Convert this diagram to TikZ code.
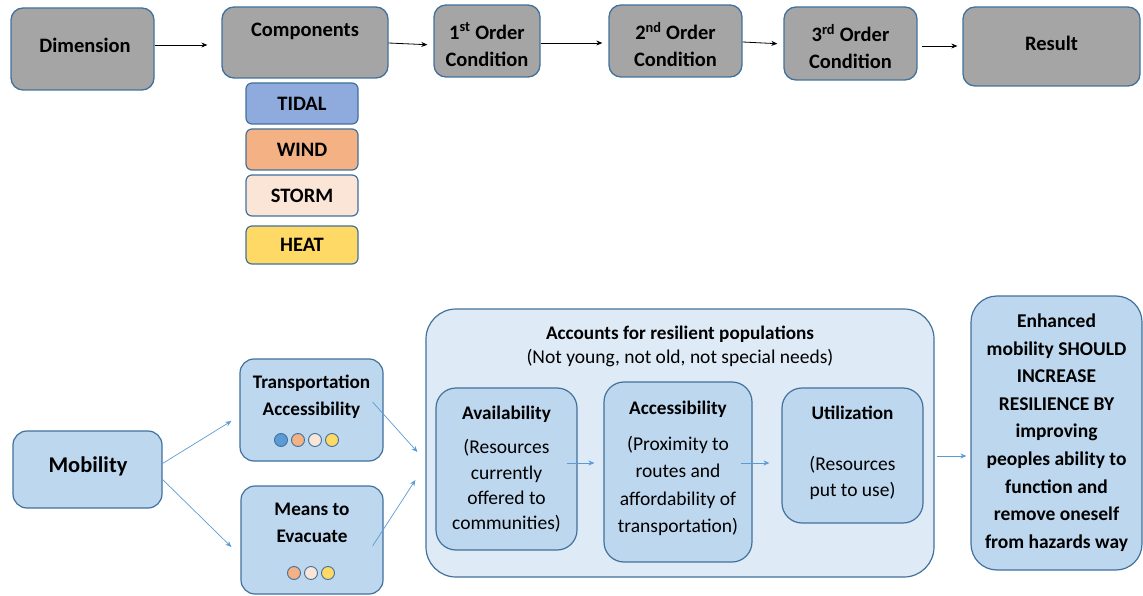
\documentclass[tikz,border=0pt]{standalone}
\usepackage{fontspec}
\setmainfont{Carlito}
\usetikzlibrary{arrows.meta}
\definecolor{edgeblue}{HTML}{41719C}
\definecolor{boxgray}{HTML}{A5A5A5}
\definecolor{boxblue}{HTML}{BDD7EE}
\definecolor{paleblue}{HTML}{DEEBF7}
\definecolor{linkblue}{HTML}{5B9BD5}
\definecolor{tidal}{HTML}{8FAADC}
\definecolor{wind}{HTML}{F4B183}
\definecolor{storm}{HTML}{FBE5D6}
\definecolor{heat}{HTML}{FFD966}
\begin{document}
\begin{tikzpicture}[x=1pt,y=-1pt,
  graybox/.style={draw=edgeblue, line width=1.3pt, fill=boxgray, rounded corners=12pt, inner sep=0pt},
  gtxt/.style={inner sep=0pt, align=center, font=\fontsize{20.5}{27}\selectfont\bfseries},
  hazard/.style={draw=edgeblue, line width=1.2pt, rounded corners=6pt, minimum width=112pt,
    inner sep=0pt, font=\fontsize{20.5}{24}\selectfont\bfseries},
  bluebox/.style={draw=edgeblue, line width=1.2pt, fill=boxblue, rounded corners=14pt, inner sep=0pt},
  txt/.style={inner sep=0pt, align=center, font=\fontsize{19.5}{27}\selectfont},
  btxt/.style={txt, font=\fontsize{19.2}{27}\selectfont\bfseries},
  dot/.style={circle, draw=edgeblue, line width=0.9pt, minimum size=13pt, inner sep=0pt},
  karrow/.style={-{Stealth[length=6pt,width=5pt]}, line width=0.8pt, black},
  barrow/.style={-{Stealth[length=6pt,width=5pt]}, line width=0.7pt, linkblue}]
\useasboundingbox (0,0) rectangle (1143,596);

% top row: dimension -> result
\node[graybox, minimum width=143pt, minimum height=82pt] (dim) at (82.5,49) {};
\node[gtxt] (dimt) at (85,45) {Dimension};
\node[graybox, minimum width=166pt, minimum height=71pt] (comp) at (305,42.5) {};
\node[gtxt] (compt) at (305,31) {Components};
\node[graybox, minimum width=106pt, minimum height=72pt] (o1) at (487,41) {};
\node[gtxt] (o1t) at (487,44.5) {1\textsuperscript{st} Order\\Condition};
\node[graybox, minimum width=133pt, minimum height=72pt] (o2) at (675.5,41) {};
\node[gtxt] (o2t) at (675.5,44.5) {2\textsuperscript{nd} Order\\Condition};
\node[graybox, minimum width=133pt, minimum height=73pt] (o3) at (850.5,43.5) {};
\node[gtxt] (o3t) at (850.5,46.5) {3\textsuperscript{rd} Order\\Condition};
\node[graybox, minimum width=177pt, minimum height=79pt] (res) at (1051.5,46.5) {};
\node[gtxt] (rest) at (1051.5,43) {Result};

\draw[karrow, shorten >=14pt] (dim.east |- 0,45) -- (comp.west |- 0,45);
\draw[karrow, shorten >=6pt] (comp.east |- 0,43) -- (o1.west |- 0,45);
\draw[karrow, shorten >=6pt] (o1.east |- 0,43) -- (o2.west |- 0,43);
\draw[karrow, shorten >=6pt] (o2.east |- 0,42) -- (o3.west |- 0,44);
\draw[karrow, shorten <=4pt, shorten >=5pt] (o3.east |- 0,46) -- (res.west |- 0,46);

% hazard components
\node[hazard, fill=tidal, minimum height=41pt] (tid) at (302,103.5) {TIDAL};
\node[hazard, fill=wind,  minimum height=41pt] (win) at (302,149.5) {WIND};
\node[hazard, fill=storm, minimum height=41pt] (sto) at (302,195.5) {STORM};
\node[hazard, fill=heat,  minimum height=38pt] (hea) at (302,245) {HEAT};

% bottom row: mobility
\node[bluebox, minimum width=149pt, minimum height=77pt] (mob) at (87.5,469.5) {};
\node[inner sep=0pt, font=\fontsize{22.5}{26}\selectfont\bfseries] (mobt) at (88,466) {Mobility};

\node[bluebox, minimum width=143pt, minimum height=102pt] (trans) at (311.5,410) {};
\node[btxt] (transt) at (311.5,396.5) {Transportation\\Accessibility};
\node[dot, fill=linkblue] (td1) at (281,440) {};
\node[dot, fill=wind]     (td2) at (298,440) {};
\node[dot, fill=storm]    (td3) at (315,440) {};
\node[dot, fill=heat]     (td4) at (332,440) {};

\node[bluebox, minimum width=142pt, minimum height=108pt] (means) at (312,540) {};
\node[btxt] (meanst) at (312,522.5) {Means to\\Evacuate};
\node[dot, fill=wind]  (md1) at (294,573) {};
\node[dot, fill=storm] (md2) at (311,573) {};
\node[dot, fill=heat]  (md3) at (328,573) {};

% resilient populations
\node[draw=edgeblue, line width=1.2pt, fill=paleblue, rounded corners=30pt, inner sep=0pt,
  minimum width=508pt, minimum height=268pt] (cont) at (680,443) {};
\node[btxt] (contt) at (680,334) {Accounts for resilient populations};
\node[txt] (conts) at (680,358) {(Not young, not old, not special needs)};

\node[bluebox, minimum width=141pt, minimum height=162pt, rounded corners=20pt] (avail) at (506.5,469) {};
\node[btxt] (availt) at (506.5,414) {Availability};
\node[txt, font=\fontsize{19.5}{25.3}\selectfont] (availb) at (506.5,486)
  {(Resources\\currently\\offered to\\communities)};

\node[bluebox, minimum width=148pt, minimum height=180pt, rounded corners=20pt] (acc) at (678,472) {};
\node[btxt] (acct) at (678,409) {Accessibility};
\node[txt, font=\fontsize{19.5}{27.3}\selectfont] (accb) at (678,486)
  {(Proximity to\\routes and\\affordability of\\transportation)};

\node[bluebox, minimum width=141pt, minimum height=135pt, rounded corners=20pt] (util) at (852.5,455.5) {};
\node[btxt] (utilt) at (852.5,413) {Utilization};
\node[txt, font=\fontsize{19.5}{26}\selectfont] (utilb) at (852.5,478)
  {(Resources\\put to use)};

\node[bluebox, minimum width=171pt, minimum height=274pt, rounded corners=26pt] (enh) at (1056.5,433) {};
\node[btxt, font=\fontsize{19.5}{27.6}\selectfont\bfseries] (enht) at (1056.5,432.5)
  {Enhanced\\mobility SHOULD\\INCREASE\\RESILIENCE BY\\improving\\peoples ability to\\function and\\remove oneself\\from hazards way};

% blue connectors
\draw[barrow] ([yshift=6pt]mob.east) -- ([xshift=-8pt,yshift=-11pt]trans.west);
\draw[barrow] ([yshift=-10pt]mob.east) -- ([xshift=-9pt,yshift=-7pt]means.west);
\draw[barrow] ([xshift=-11pt,yshift=8pt]trans.east) -- ([xshift=-8pt,yshift=-9pt]cont.west);
\draw[barrow] ([xshift=-11pt,yshift=-6pt]means.east) -- ([xshift=-10pt,yshift=-37pt]cont.west);
\draw[barrow] ([xshift=-11pt,yshift=6pt]avail.east) -- ([xshift=-9pt,yshift=9pt]acc.west);
\draw[barrow] ([xshift=-12pt,yshift=9pt]acc.east) -- ([xshift=-12pt,yshift=-7.5pt]util.west);
\draw[barrow] ([xshift=2pt,yshift=-13pt]cont.east) -- ([xshift=-4pt,yshift=-23pt]enh.west);
\end{tikzpicture}
\end{document}
